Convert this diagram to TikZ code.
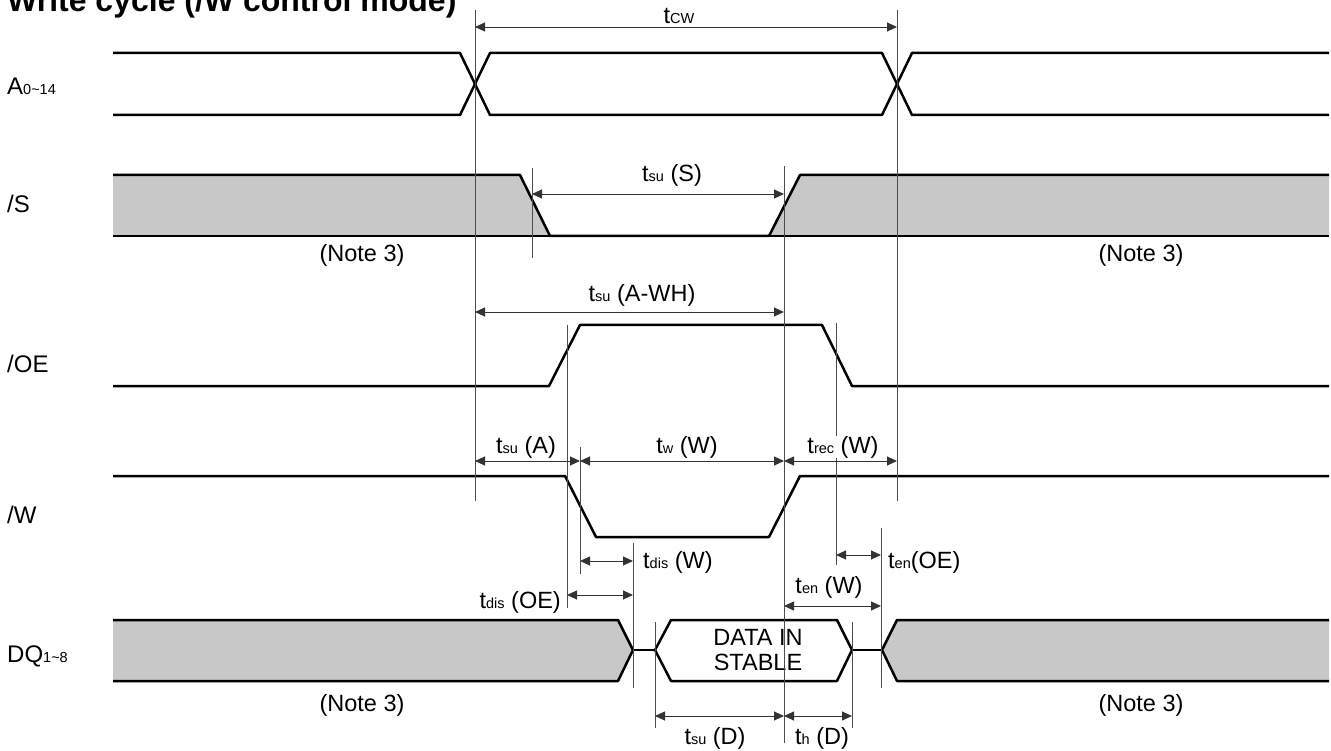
\documentclass[tikz,border=0pt]{standalone}
\usepackage{fontspec}
\setmainfont{Liberation Sans}
\usetikzlibrary{arrows, arrows.meta}
\definecolor{notegray}{RGB}{200,200,200}
\newcommand{\smtxt}[1]{{\fontsize{14.5}{16}\selectfont #1}}
\tikzset{
  sig/.style={line width=2.5pt, line join=round},
  guide/.style={black!70, line width=0.9pt},
  dimarrow/.style={black!80, line width=0.9pt, {Triangle[length=10pt,width=9pt]}-{Triangle[length=10pt,width=9pt]}},
  lbl/.style={font=\fontsize{23.5}{25}\selectfont, inner sep=0pt},
  signame/.style={font=\fontsize{24}{26}\selectfont, inner sep=0pt, anchor=base west}
}

\begin{document}
\begin{tikzpicture}[x=1pt,y=-1pt]
\useasboundingbox (0,0) rectangle (1331,751);
\node[anchor=base west, inner sep=0pt, font=\bfseries\fontsize{32}{34}\selectfont] (title) at (7,12) {Write cycle (/W control mode)};
% signal names
\node[signame] (nA)  at (7,95)  {A\smtxt{0\textasciitilde 14}};
\node[signame] (nS)  at (7,213) {/S};
\node[signame] (nOE) at (7,372) {/OE};
\node[signame] (nW)  at (7,523) {/W};
\node[signame] (nDQ) at (7,662) {DQ\smtxt{1\textasciitilde 8}};
% grey (Note 3) areas
\fill[notegray] (113,175) -- (520,175) -- (550,236) -- (113,236) -- cycle;
\fill[notegray] (769,236) -- (800,175) -- (1329,175) -- (1329,236) -- cycle;
\fill[notegray] (113,620) -- (618,620) -- (633,650) -- (618,681) -- (113,681) -- cycle;
\fill[notegray] (1329,620) -- (897,620) -- (882,650) -- (897,681) -- (1329,681) -- cycle;
% A0~14
\draw[sig] (113,53) -- (460,53) -- (490,115) -- (882,115) -- (912,53) -- (1329,53);
\draw[sig] (113,115) -- (460,115) -- (490,53) -- (882,53) -- (912,115) -- (1329,115);
% /S
\draw[sig] (113,175) -- (520,175) -- (550,236) -- (769,236) -- (800,175) -- (1329,175);
\draw[sig] (113,236) -- (1329,236);
% /OE
\draw[sig] (113,386) -- (549,386) -- (580,325) -- (822,325) -- (852,386) -- (1329,386);
% /W
\draw[sig] (113,476) -- (565,476) -- (596,537) -- (769,537) -- (800,476) -- (1329,476);
% DQ1~8
\draw[sig] (113,620) -- (618,620) -- (633,650) -- (618,681) -- (113,681);
\draw[sig] (633,650) -- (655,650);
\draw[sig] (655,650) -- (671,620) -- (837,620) -- (852,650) -- (837,681) -- (671,681) -- cycle;
\draw[sig] (852,650) -- (882,650);
\draw[sig] (1329,620) -- (897,620) -- (882,650) -- (897,681) -- (1329,681);
\node[lbl, align=center] (din) at (758,650) {DATA IN\\STABLE};
% guide lines
\draw[guide] (475,10) -- (475,501);
\draw[guide] (897,10) -- (897,501);
\draw[guide] (532,168) -- (532,258);
\draw[guide] (784,166) -- (784,743);
\draw[guide] (567,325) -- (567,608);
\draw[guide] (580,447) -- (580,574);
\draw[guide] (633,543) -- (633,688);
\draw[guide] (836,323) -- (836,565);
\draw[guide] (881,528) -- (881,688);
\draw[guide] (655,622) -- (655,728);
\draw[guide] (852,622) -- (852,728);
% timings
\draw[dimarrow] (475,27) -- (897,27);
\node[lbl, anchor=base] (tcw) at (679,24) {t\smtxt{CW}};
\draw[dimarrow] (532,194) -- (784,194);
\node[lbl, anchor=base] (tsus) at (672,182) {t\smtxt{su} (S)};
\draw[dimarrow] (475,312) -- (784,312);
\node[lbl, anchor=base] (tsuawh) at (642,302) {t\smtxt{su} (A-WH)};
\draw[dimarrow] (475,461) -- (580,461);
\node[lbl, anchor=base, fill=white] (tsua) at (526,453) {t\smtxt{su} (A)};
\draw[dimarrow] (580,461) -- (784,461);
\node[lbl, anchor=base, fill=white] (tww) at (687,453) {t\smtxt{w} (W)};
\draw[dimarrow] (784,461) -- (897,461);
\node[lbl, anchor=base, fill=white] (trecw) at (843,453) {t\smtxt{rec} (W)};
\draw[dimarrow] (580,561) -- (633,561);
\node[lbl, anchor=base west] (tdisw) at (643,568) {t\smtxt{dis} (W)};
\draw[dimarrow] (836,555) -- (881,555);
\node[lbl, anchor=base west] (tenoe) at (888,568) {t\smtxt{en}(OE)};
\draw[dimarrow] (784,606) -- (881,606);
\node[lbl, anchor=base] (tenw) at (829,593) {t\smtxt{en} (W)};
\draw[dimarrow] (567,595) -- (633,595);
\node[lbl, anchor=base east] (tdisoe) at (561,608) {t\smtxt{dis} (OE)};
\draw[dimarrow] (655,716) -- (784,716);
\node[lbl, anchor=base] (tsud) at (715,744) {t\smtxt{su} (D)};
\draw[dimarrow] (784,716) -- (852,716);
\node[lbl, anchor=base] (thd) at (822,744) {t\smtxt{h} (D)};
% notes
\node[lbl, anchor=base] (n1) at (362,262) {(Note 3)};
\node[lbl, anchor=base] (n2) at (1141,262) {(Note 3)};
\node[lbl, anchor=base] (n3) at (362,711) {(Note 3)};
\node[lbl, anchor=base] (n4) at (1141,711) {(Note 3)};
\end{tikzpicture}
\end{document}
